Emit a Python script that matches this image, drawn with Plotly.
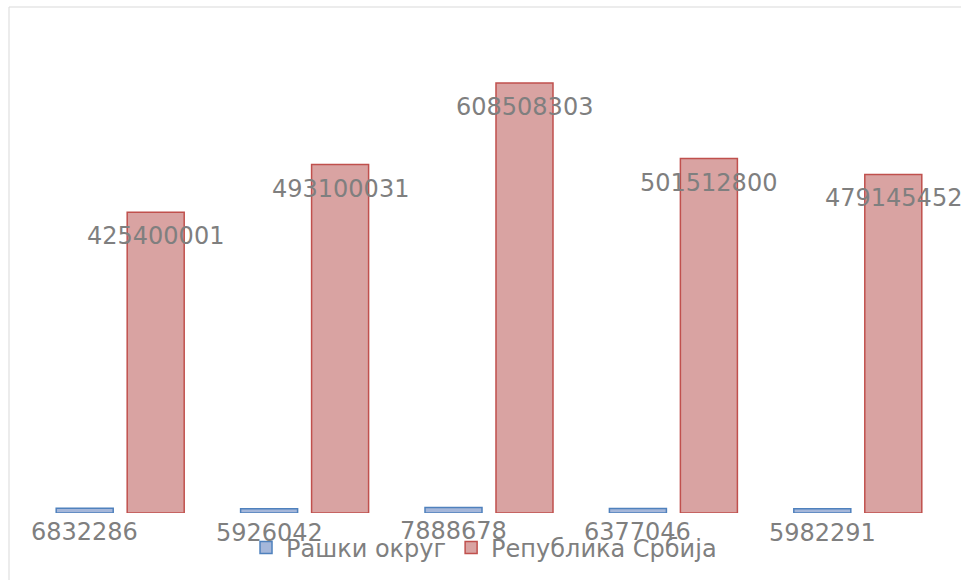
import plotly.graph_objects as go

categories = ["1", "2", "3", "4", "5"]
series_names = ["Рашки округ", "Република Србија"]
raski = [6832286, 5926042, 7888678, 6377046, 5982291]
srbija = [425400001, 493100031, 608508303, 501512800, 479145452]

label_color = "#7f7f7f"
font_family = "DejaVu Sans"

fig = go.Figure()
fig.add_trace(go.Bar(
    x=categories, y=raski, name=series_names[0],
    marker=dict(color="#a5b7da", line=dict(color="#4f81bd", width=1.5)),
))
fig.add_trace(go.Bar(
    x=categories, y=srbija, name=series_names[1],
    marker=dict(color="#d9a3a2", line=dict(color="#c0504d", width=1.5)),
))

annotations = []
for i, v in enumerate(raski):
    annotations.append(dict(x=i, y=v, xref="x", yref="y", text=str(v), showarrow=False,
                            xshift=-35.5, yshift=-24, yanchor="middle",
                            font=dict(size=24, color=label_color, family=font_family)))
for i, v in enumerate(srbija):
    annotations.append(dict(x=i, y=v, xref="x", yref="y", text=str(v), showarrow=False,
                            xshift=35.5, yshift=-24, yanchor="middle",
                            font=dict(size=24, color=label_color, family=font_family)))

fig.update_layout(
    width=961, height=580,
    margin=dict(l=28, r=11, t=7, b=67),
    paper_bgcolor="white", plot_bgcolor="white",
    barmode="group", bargap=0.23, bargroupgap=0.197,
    showlegend=True,
    legend=dict(orientation="h", x=0.4946, xanchor="center", y=-0.069, yanchor="middle",
                font=dict(size=24, color=label_color, family=font_family),
                itemwidth=30, bgcolor="rgba(0,0,0,0)"),
    xaxis=dict(visible=False, type="category", range=[-0.5, 4.5]),
    yaxis=dict(visible=False, range=[0, 716e6]),
    annotations=annotations,
    shapes=[dict(type="rect", xref="paper", yref="paper",
                 x0=(9 - 28) / 922, x1=1.1, y0=-0.3, y1=1.0,
                 line=dict(color="#d9d9d9", width=1), layer="below")],
    font=dict(family=font_family),
)

fig.write_html("out.html", config={"displayModeBar": False},
               post_script="document.body.style.margin='0';document.body.style.overflow='hidden';")
